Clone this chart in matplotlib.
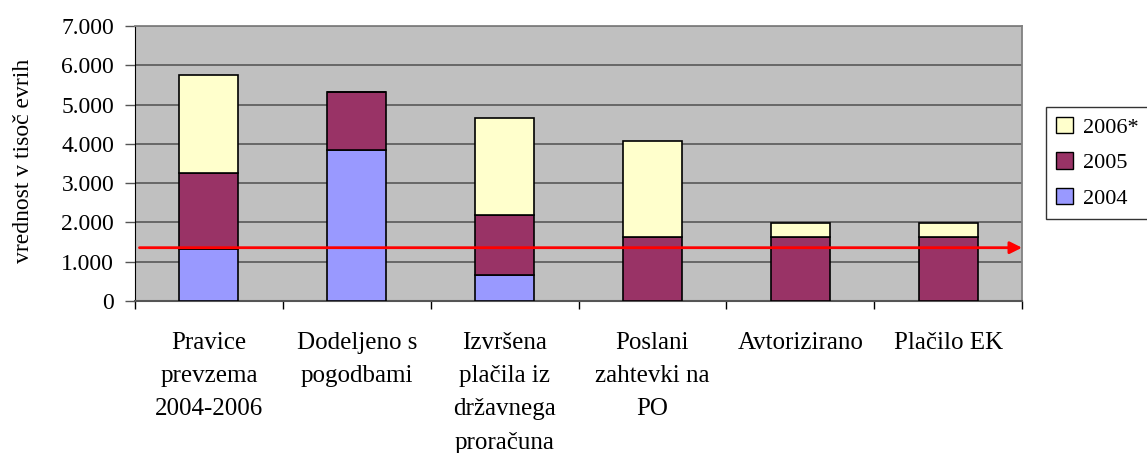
import numpy as np
import matplotlib.pyplot as plt
from matplotlib.patches import Patch

plt.rcParams["font.family"] = ["Liberation Serif", "DejaVu Serif"]

categories = ["Pravice\nprevzema\n2004-2006", "Dodeljeno s\npogodbami",
              "Izvršena\nplačila iz\ndržavnega\nproračuna", "Poslani\nzahtevki na\nPO",
              "Avtorizirano", "Plačilo EK"]
v2004 = [1316, 3835, 669, 0, 0, 0]
v2005 = [1950, 1490, 1526, 1627, 1627, 1627]
v2006 = [2478, 0, 2458, 2449, 365, 365]
series_names = ["2004", "2005", "2006*"]
colors = ["#9999FF", "#993366", "#FFFFCC"]
threshold = 1357
yticks = [0, 1000, 2000, 3000, 4000, 5000, 6000, 7000]
ytick_labels = ["0", "1.000", "2.000", "3.000", "4.000", "5.000", "6.000", "7.000"]

W, H = 1147, 453
fig = plt.figure(figsize=(W / 100, H / 100), dpi=100)
ax = fig.add_axes([135 / W, 1 - 301 / H, 887 / W, 275 / H])
ax.set_facecolor("#C0C0C0")

x = np.arange(len(categories))
bottom = np.zeros(len(categories))
for vals, col in zip([v2004, v2005, v2006], colors):
    ax.bar(x, vals, width=0.4, bottom=bottom, color=col, edgecolor="black", linewidth=1.2, zorder=3)
    bottom += np.array(vals)

ax.set_xlim(-0.5, len(categories) - 0.5)
ax.set_ylim(0, 7000)
ax.set_yticks(yticks)
ax.set_yticklabels(ytick_labels, fontsize=17)
ax.yaxis.grid(True, color="#606060", linewidth=1.3, zorder=1)
ax.set_axisbelow(True)

# category boundaries as tick marks, labels as separate text
ax.set_xticks(np.arange(-0.5, len(categories)))
ax.set_xticklabels([])
ax.tick_params(axis="x", length=6, width=1, color="black")
ax.tick_params(axis="y", length=7, width=1, color="#555555", pad=8)
for i, lab in enumerate(categories):
    ax.annotate(lab, xy=(i, 0), xycoords=("data", "axes fraction"),
                xytext=(0, -31), textcoords="offset pixels",
                ha="center", va="top", fontsize=18, linespacing=1.66)

ax.set_ylabel("vrednost v tisoč evrih", fontsize=17)
ax.yaxis.set_label_coords(-0.114, 0.51)
for s in ["top", "right"]:
    ax.spines[s].set_color("#808080")
    ax.spines[s].set_linewidth(1.3)
ax.spines["left"].set_color("black")
ax.spines["bottom"].set_color("#555555")
ax.spines["bottom"].set_linewidth(1.5)

ax.annotate("", xy=(len(categories) - 0.5, threshold), xytext=(-0.47, threshold),
            arrowprops=dict(arrowstyle="-|>", color="#FF0000", lw=2, mutation_scale=18,
                            shrinkA=0, shrinkB=0), zorder=5, annotation_clip=False)

handles = [Patch(facecolor=c, edgecolor="black", label=n) for n, c in zip(series_names, colors)]
leg = fig.legend(handles[::-1], series_names[::-1], loc="upper left",
                 bbox_to_anchor=(1046 / W, 1 - 107 / H), fontsize=16, frameon=True,
                 fancybox=False, edgecolor="black", handlelength=0.75, handleheight=0.75,
                 labelspacing=0.65, borderpad=0.45, handletextpad=0.45, borderaxespad=0)
leg.get_frame().set_linewidth(1)

fig.savefig("out.png", dpi=100)
